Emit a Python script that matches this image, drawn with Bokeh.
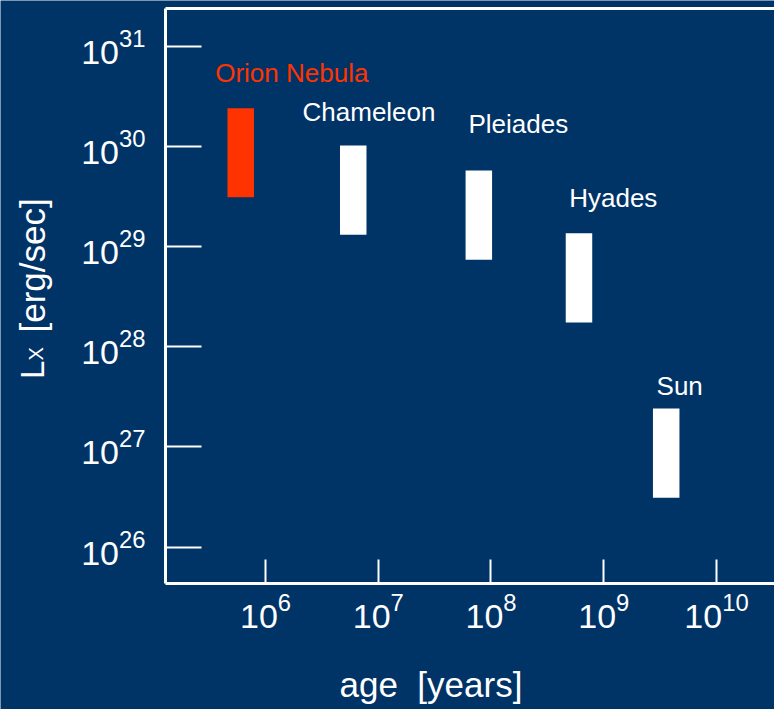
import math
from bokeh.plotting import figure
from bokeh.models import Range1d, FixedTicker, ColumnDataSource, Label, LogAxis
from bokeh.embed import file_html
from bokeh.resources import INLINE
from bokeh.core.properties import value

# ---- data ----
clusters = ["Orion Nebula", "Chameleon", "Pleiades", "Hyades", "Sun"]
age_years = [6.03e5, 6.0e6, 7.8e7, 6.03e8, 3.58e9]
lx_low = [3.11e29, 1.31e29, 7.38e28, 1.75e28, 3.11e26]
lx_high = [2.40e30, 1.02e30, 5.74e29, 1.36e29, 2.42e27]
label_age = [3.58e5, 2.13e6, 6.31e7, 4.94e8, 2.94e9]
label_lx = [5.38e30, 2.23e30, 1.69e30, 3.04e29, 4.02e27]
bar_colors = ["#FF3300", "#FFFFFF", "#FFFFFF", "#FFFFFF", "#FFFFFF"]

x_ticks = [1e6, 1e7, 1e8, 1e9, 1e10]
y_ticks = [1e26, 1e27, 1e28, 1e29, 1e30, 1e31]
x_axis_bounds = (10 ** 5.1131, 10 ** 10.5144)   # drawn extent of the age axis
y_axis_bounds = (10 ** 25.6377, 10 ** 31.3762)  # drawn extent of the Lx axis
x_view = (10 ** 3.6497, 10 ** 10.5144)          # whole canvas in data units
y_view = (10 ** 24.3802, 10 ** 31.4561)

x_title = "age\u00a0 [years]"
y_title_parts = ["L", "X", "[erg/sec]"]

BG = "#003366"
FONT = "Liberation Sans"
W, H = 774, 709

src = ColumnDataSource(dict(name=clusters, age=age_years, lo=lx_low, hi=lx_high,
                            lab_x=label_age, lab_y=label_lx, color=bar_colors))

p = figure(width=W, height=H, x_axis_type="log", y_axis_type="log",
           x_axis_location=None, y_axis_location=None,
           x_range=Range1d(*x_view), y_range=Range1d(*y_view),
           output_backend="svg", toolbar_location=None, min_border=0,
           background_fill_color=BG, border_fill_color=BG, outline_line_color=None)
p.grid.visible = False


def style(ax):
    ax.axis_line_color = "white"
    ax.axis_line_width = 3
    ax.major_tick_line_color = "white"
    ax.major_tick_line_width = 2
    ax.major_tick_out = 0
    ax.minor_tick_line_color = None
    ax.major_label_text_color = "white"
    ax.major_label_text_font = FONT
    ax.major_label_text_font_size = "34px"


xaxis = LogAxis(ticker=FixedTicker(ticks=x_ticks), fixed_location=y_axis_bounds[0],
                bounds=x_axis_bounds)
style(xaxis)
xaxis.major_tick_in = 24
xaxis.major_label_standoff = 10
p.add_layout(xaxis, "below")

yaxis = LogAxis(ticker=FixedTicker(ticks=y_ticks), fixed_location=x_axis_bounds[0],
                bounds=y_axis_bounds)
style(yaxis)
yaxis.major_tick_in = 36
yaxis.major_label_standoff = 20
p.add_layout(yaxis, "left")

# top frame line
top = LogAxis(ticker=FixedTicker(ticks=[]), fixed_location=y_axis_bounds[1],
              bounds=x_axis_bounds)
top.axis_line_color = "white"
top.axis_line_width = 3
top.major_tick_line_color = None
top.minor_tick_line_color = None
top.major_label_text_font_size = "0px"
p.add_layout(top, "above")

# luminosity ranges
p.segment(x0="age", y0="lo", x1="age", y1="hi", source=src, line_color="color",
          line_width=26.5, line_cap="butt")

# cluster names
p.text(x="lab_x", y="lab_y", text="name", source=src, text_color="color",
       text_font=value(FONT), text_font_size=value("26px"),
       text_align="left", text_baseline="alphabetic")

# axis titles (screen units measured from the canvas' bottom-left)
p.add_layout(Label(x=339, y=H - 684, x_units="screen", y_units="screen", text=x_title,
                   text_color="white", text_font=FONT, text_font_size="35px",
                   text_align="left", text_baseline="alphabetic"))
for txt, sx, sy, size in zip(y_title_parts, [31.5, 35, 31.5], [378.5, 360, 332],
                             ["33px", "20px", "35px"]):
    p.add_layout(Label(x=sx, y=H - sy, x_units="screen", y_units="screen", text=txt,
                       angle=math.pi / 2, text_color="white", text_font=FONT,
                       text_font_size=size, text_align="left", text_baseline="alphabetic"))

open("out.html", "w").write(file_html(p, INLINE))
